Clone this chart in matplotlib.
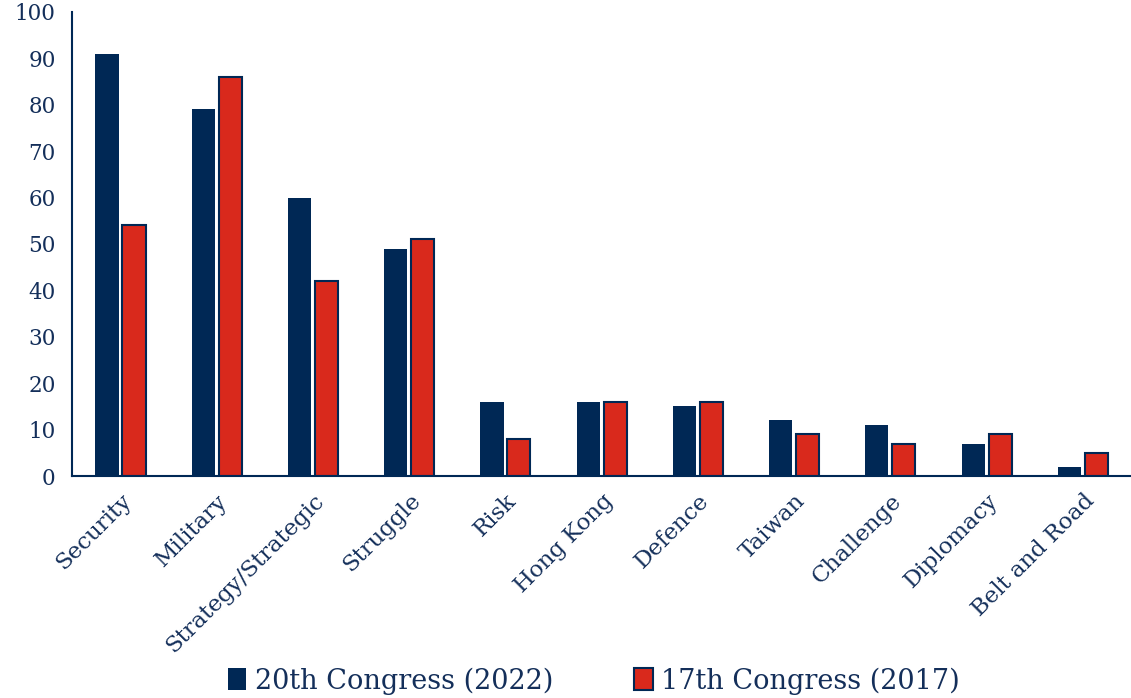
import matplotlib.pyplot as plt
import numpy as np

categories = ["Security", "Military", "Strategy/Strategic", "Struggle", "Risk", "Hong Kong",
              "Defence", "Taiwan", "Challenge", "Diplomacy", "Belt and Road"]
congress_2022 = [91, 79, 60, 49, 16, 16, 15, 12, 11, 7, 2]
congress_2017 = [54, 86, 42, 51, 8, 16, 16, 9, 7, 9, 5]

navy = "#002855"
red = "#d9291c"
text_col = "#142f5a"

plt.rcParams["font.family"] = ["DejaVu Serif"]

fig = plt.figure(figsize=(11.31, 6.98), dpi=100)
ax = fig.add_axes([0.064, 0.318, 0.936, 0.665])

x = np.arange(len(categories))
w = 0.24
ax.bar(x - 0.14, congress_2022, w, color=navy, label="20th Congress (2022)")
ax.bar(x + 0.14, congress_2017, w, color=red, edgecolor=navy, linewidth=1.5,
       label="17th Congress (2017)")

ax.set_xlim(-0.5, 10.5)
ax.set_ylim(0, 100)
ax.set_yticks(range(0, 101, 10))
ax.tick_params(axis="y", length=0, labelsize=15.5, labelcolor=text_col, pad=12)
ax.set_xticks(x)
ax.set_xticklabels(categories, rotation=45, ha="right", rotation_mode="anchor",
                   fontsize=16.5, color=text_col)
ax.tick_params(axis="x", length=0, pad=10)

for s in ["top", "right"]:
    ax.spines[s].set_visible(False)
for s in ["left", "bottom"]:
    ax.spines[s].set_color(navy)
    ax.spines[s].set_linewidth(1.5)

leg = fig.legend(loc="lower center", bbox_to_anchor=(0.525, -0.03), ncol=2, frameon=False,
                 fontsize=19.5, handlelength=0.7, handleheight=0.9, handletextpad=0.3,
                 columnspacing=3.0)
for t in leg.get_texts():
    t.set_color(text_col)

fig.savefig("out.png", dpi=100)
